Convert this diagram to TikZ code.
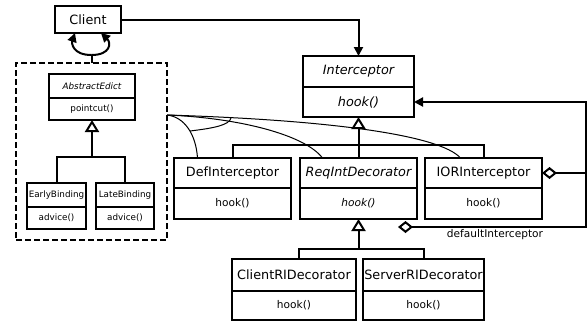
\documentclass[tikz,border=0pt]{standalone}
\usepackage{fontspec}
\setmainfont{DejaVu Sans}
\usetikzlibrary{arrows.meta,calc}
\newcommand\fbig{\fontsize{12.8}{14}\selectfont}
\newcommand\fmed{\fontsize{10.6}{12}\selectfont}
\newcommand\fsml{\fontsize{8.8}{10}\selectfont}
\newcommand\umlcls[8]{%
  \node[box,minimum width=#4pt,minimum height=#5pt] (#1) at (#2,#3) {#7};
  \node[box,minimum width=#4pt,minimum height=#6pt] (#1m) at (#1.south west) {#8};}
\begin{document}
\begin{tikzpicture}[x=1pt,y=-1pt,
  box/.style={draw,line width=2.1pt,inner sep=0pt,outer sep=0pt,anchor=north west,align=center,fill=white},
  conn/.style={line width=2pt},
  thinc/.style={line width=1pt},
  inh/.style={-{Triangle[open,length=12pt,width=14pt]}},
  arr/.style={-{Triangle[length=9pt,width=9pt]}},
  aggarr/.style={{Diamond[open,length=15pt,width=12pt]}-{Triangle[length=9pt,width=9pt]}},
  agg/.style={{Diamond[open,length=15pt,width=12pt]}-}]
\useasboundingbox (0,0) rectangle (588,322);
% dashed package
\node[draw,line width=1.6pt,dash pattern=on 6pt off 3pt,minimum width=151pt,minimum height=177pt,anchor=north west,inner sep=0pt,outer sep=0pt] (dbox) at (16,63) {};
\coordinate (cc) at ([yshift=-52pt]dbox.north east);
\node[box,minimum width=66pt,minimum height=27pt] (client) at (55,6) {\fbig Client};
\umlcls{intc}{303}{56}{111}{31}{30}{\fbig\itshape Interceptor}{\fbig\itshape hook()}
\umlcls{ae}{49}{74}{86}{24}{22}{\fsml\itshape AbstractEdict}{\fsml pointcut()}
\umlcls{eb}{27}{183}{59}{24}{22}{\fsml EarlyBinding}{\fsml advice()}
\umlcls{lb}{96}{183}{58}{24}{22}{\fsml LateBinding}{\fsml advice()}
\umlcls{def}{174}{158}{117}{30}{31}{\fbig DefInterceptor}{\fmed hook()}
\umlcls{req}{300}{158}{117}{30}{31}{\fbig\itshape ReqIntDecorator}{\fmed\itshape hook()}
\umlcls{ior}{425}{158}{117}{30}{31}{\fbig IORInterceptor}{\fmed hook()}
\umlcls{cri}{232}{259}{124}{32}{29}{\fbig ClientRIDecorator}{\fmed hook()}
\umlcls{sri}{363}{259}{121}{32}{29}{\fbig ServerRIDecorator}{\fmed hook()}
% thin crosscut curves
\draw[thinc] (cc) .. controls (185,117) and (196,135) .. ([xshift=-35pt]def.north);
\draw[thinc] (cc) .. controls (240,118) and (305,135) .. ([xshift=-36pt]req.north);
\draw[thinc] (cc) .. controls (330,120) and (440,135) .. ([xshift=-23pt]ior.north);
\coordinate (a1) at (190,131);
\coordinate (a2) at (231,118);
\draw[thinc] (a1) .. controls (215,128) and (229,125) .. (a2);
% inheritance
\coordinate (bar1) at (92,157);
\coordinate (bar2) at (359,145);
\coordinate (bar3) at (359,249);
\draw[conn] (eb.north) |- (bar1) -| (lb.north);
\draw[conn,inh] (aem.south |- bar1) -- (aem.south);
\draw[conn] (def.north) |- (bar2) -| (ior.north);
\draw[conn,inh] (req.north) -- (intcm.south);
\draw[conn] ([xshift=5pt]cri.north) |- (bar3) -| (sri.north);
\draw[conn,inh] (reqm.south |- bar3) -- (reqm.south);
% client association
\draw[conn,arr] (client.east) -| (intc.north);
% loop
\coordinate (lp) at ([yshift=8pt]dbox.north);
\draw[conn] (dbox.north) -- (lp);
\draw[conn,arr] (lp) .. controls ([xshift=-19pt]lp) and ([xshift=-20pt,yshift=12pt]lp) .. ([xshift=-13pt]client.south);
\draw[conn,arr] (lp) .. controls ([xshift=19pt]lp) and ([xshift=20pt,yshift=12pt]lp) .. ([xshift=13pt]client.south);
% aggregations
\coordinate (rt) at (586,102);
\coordinate (dd) at (398,227);
\draw[conn,aggarr] (ior.east) -| (rt) -- (intcm.east);
\draw[conn,agg] (dd) -| (rt);
\node[anchor=north,inner sep=0pt] (lbl) at (495,229) {\fmed defaultInterceptor};
\end{tikzpicture}
\end{document}
